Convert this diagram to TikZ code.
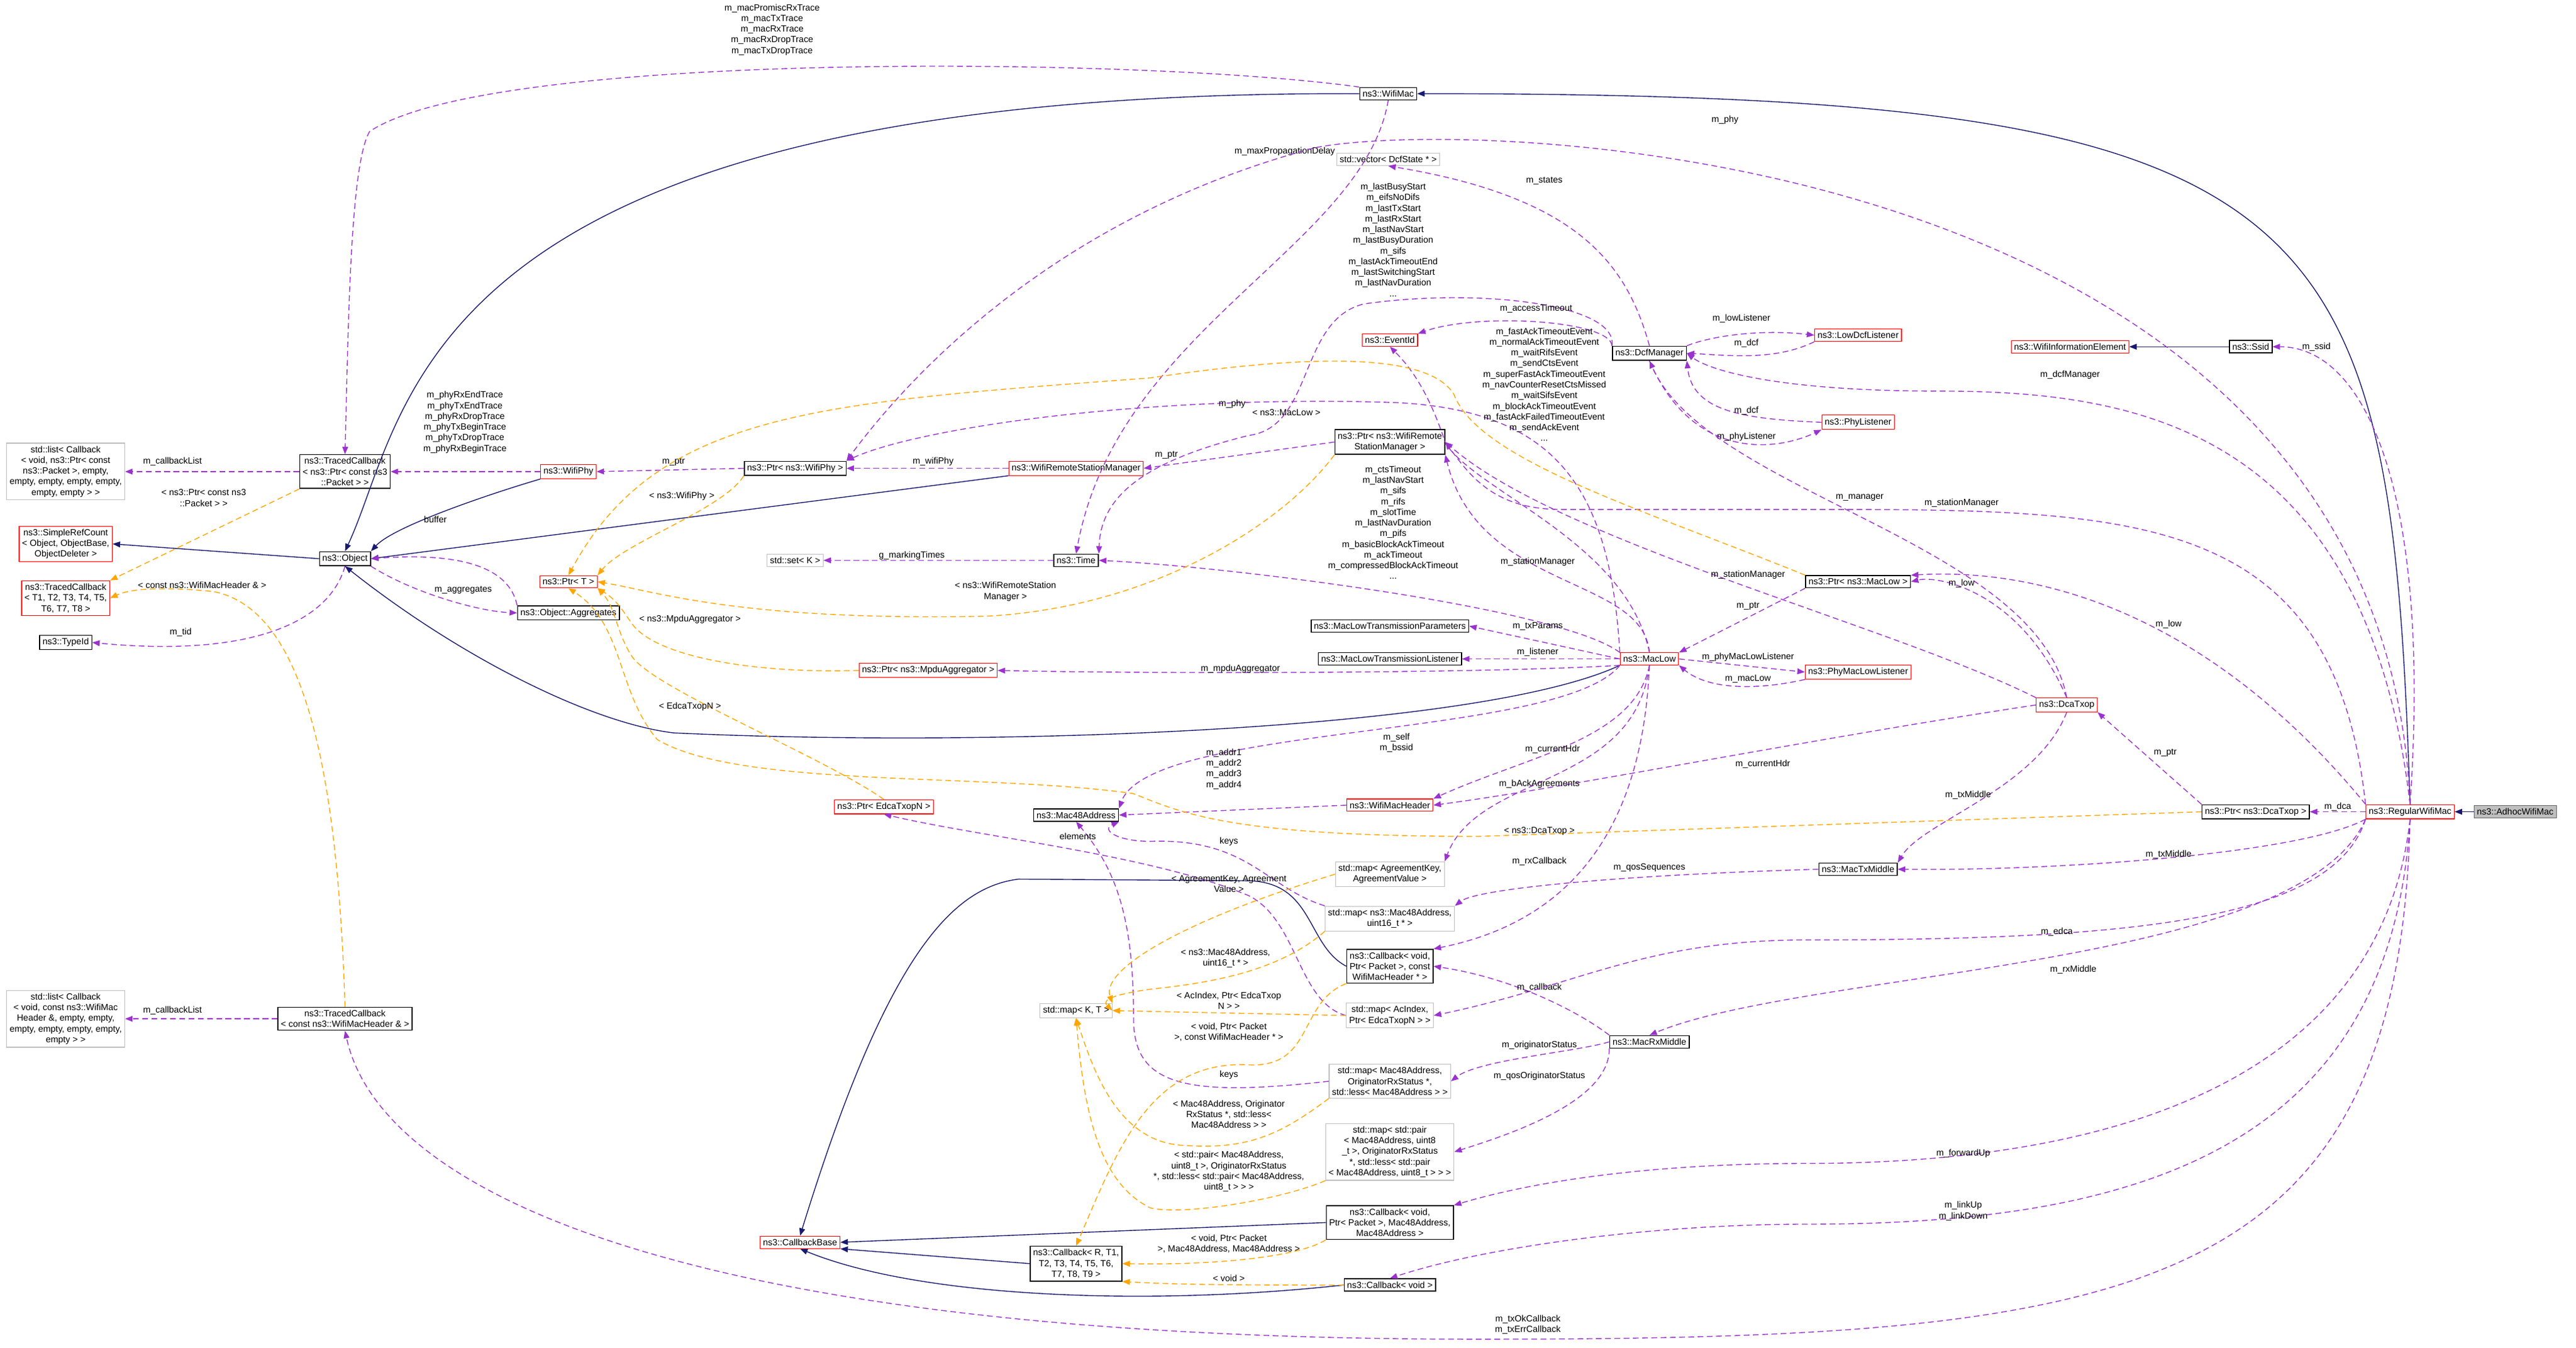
\documentclass[tikz,border=0pt]{standalone}
\usepackage{fontspec}
\setmainfont{Liberation Sans}
\usetikzlibrary{arrows.meta}
\definecolor{navyc}{HTML}{191970}
\definecolor{purp}{HTML}{9A32CD}
\definecolor{orng}{HTML}{FFA500}
\newcommand\fs{\fontsize{15.5}{18.5}\selectfont}
\tikzset{
 box/.style={draw=black, line width=1.6pt, fill=white, align=center, inner xsep=5pt, inner ysep=5pt, font=\fs},
 redbox/.style={box, draw=red, line width=1.2pt},
 greybox/.style={box, draw=black!25, line width=1.2pt},
 lbl/.style={font=\fs, align=center, inner sep=0pt},
 inh/.style={draw=navyc, line width=1.5pt, -{Triangle[length=13pt,width=10pt]}},
 use/.style={draw=purp, line width=1.5pt, dash pattern=on 10pt off 6pt, -{Triangle[length=13pt,width=10pt]}},
 tpl/.style={draw=orng, line width=1.5pt, dash pattern=on 10pt off 6pt, -{Triangle[length=13pt,width=10pt]}},
}
\begin{document}
\begin{tikzpicture}[x=1mm,y=-1mm]
\useasboundingbox (0,0) rectangle (1568,820);
% nodes
\node[box, fill=black!25, draw=black!60] (adhoc) at (1531,494) {ns3::AdhocWifiMac};
\node[redbox] (regular) at (1467,494) {ns3::RegularWifiMac};
\node[box] (wifimac) at (845,57) {ns3::WifiMac};
\node[greybox] (vector) at (845,97) {std::vector< DcfState * >};
\node[box] (dcf) at (1004,215) {ns3::DcfManager};
\node[redbox] (lowdcf) at (1131,204) {ns3::LowDcfListener};
\node[redbox] (phyl) at (1131,257) {ns3::PhyListener};
\node[redbox] (wifiinfo) at (1260,211) {ns3::WifiInformationElement};
\node[box] (ssid) at (1370,211) {ns3::Ssid};
\node[redbox] (eventid) at (846,207) {ns3::EventId};
\node[box] (ptrwrsm) at (846,269) {ns3::Ptr< ns3::WifiRemote\\StationManager >};
\node[box] (tcptr) at (210,287) {ns3::TracedCallback\\< ns3::Ptr< const ns3\\::Packet > >};
\node[greybox] (list1) at (40,287) {std::list< Callback\\< void, ns3::Ptr< const\\ ns3::Packet >, empty,\\ empty, empty, empty, empty,\\ empty, empty > >};
\node[redbox] (wifiphy) at (346,287) {ns3::WifiPhy};
\node[box] (ptrwifiphy) at (484,285) {ns3::Ptr< ns3::WifiPhy >};
\node[redbox] (wrsm) at (655,285) {ns3::WifiRemoteStationManager};
\node[redbox] (simpleref) at (40,331) {ns3::SimpleRefCount\\< Object, ObjectBase,\\ ObjectDeleter >};
\node[box] (object) at (210,340) {ns3::Object};
\node[redbox] (tc8) at (40,364) {ns3::TracedCallback\\< T1, T2, T3, T4, T5,\\ T6, T7, T8 >};
\node[redbox] (ptrt) at (346,354) {ns3::Ptr< T >};
\node[box] (aggr) at (346,373) {ns3::Object::Aggregates};
\node[box] (typeid) at (40,391) {ns3::TypeId};
\node[greybox] (set) at (484,341) {std::set< K >};
\node[box] (time) at (655,341) {ns3::Time};
\node[box] (params) at (846,381) {ns3::MacLowTransmissionParameters};
\node[box] (listener) at (846,401) {ns3::MacLowTransmissionListener};
\node[redbox] (maclow) at (1004,401) {ns3::MacLow};
\node[redbox] (phymaclow) at (1131,409) {ns3::PhyMacLowListener};
\node[box] (ptrmaclow) at (1131,354) {ns3::Ptr< ns3::MacLow >};
\node[redbox] (dcatxop) at (1258,429) {ns3::DcaTxop};
\node[redbox] (mpdu) at (565,408) {ns3::Ptr< ns3::MpduAggregator >};
\node[redbox] (ptredca) at (538,491) {ns3::Ptr< EdcaTxopN >};
\node[box] (mac48) at (655,496) {ns3::Mac48Address};
\node[redbox] (hdr) at (846,490) {ns3::WifiMacHeader};
\node[box] (ptrdca) at (1373,494) {ns3::Ptr< ns3::DcaTxop >};
\node[greybox] (mapagree) at (846,532) {std::map< AgreementKey,\\ AgreementValue >};
\node[greybox] (mapu16) at (846,559) {std::map< ns3::Mac48Address,\\ uint16\_t * >};
\node[box] (cb1) at (846,588) {ns3::Callback< void,\\ Ptr< Packet >, const\\ WifiMacHeader * >};
\node[greybox] (mapkt) at (655,615) {std::map< K, T >};
\node[greybox] (mapac) at (846,618) {std::map< AcIndex,\\ Ptr< EdcaTxopN > >};
\node[box] (mactx) at (1131,529) {ns3::MacTxMiddle};
\node[box] (macrx) at (1004,634) {ns3::MacRxMiddle};
\node[greybox] (maporig) at (846,658) {std::map< Mac48Address,\\ OriginatorRxStatus *,\\ std::less< Mac48Address > >};
\node[greybox] (mappair) at (846,701) {std::map< std::pair\\< Mac48Address, uint8\\\_t >, OriginatorRxStatus\\ *, std::less< std::pair\\< Mac48Address, uint8\_t > > >};
\node[box] (cb2) at (846,744) {ns3::Callback< void,\\ Ptr< Packet >, Mac48Address,\\ Mac48Address >};
\node[box] (cbr) at (655,769) {ns3::Callback< R, T1,\\ T2, T3, T4, T5, T6,\\ T7, T8, T9 >};
\node[box] (cbvoid) at (846,782) {ns3::Callback< void >};
\node[redbox] (cbbase) at (487,756) {ns3::CallbackBase};
\node[greybox] (list2) at (40,620) {std::list< Callback\\< void, const ns3::WifiMac\\Header \&, empty, empty,\\ empty, empty, empty, empty,\\ empty > >};
\node[box] (tchdr) at (210,620) {ns3::TracedCallback\\< const ns3::WifiMacHeader \& >};
% inheritance
\draw[inh] (adhoc) -- (regular);
\draw[inh] (regular.north) .. controls (1455,120) and (1420,57) .. (wifimac.east);
\draw[inh] (wifimac.west) .. controls (250,55) and (250,250) .. (object.north);
\draw[inh] (wifiphy.south west) .. controls (300,300) and (240,320) .. (object.north east);
\draw[inh] (wrsm.south west) -- (object.east);
\draw[inh] (maclow.south west) .. controls (900,445) and (600,455) .. (410,446) .. controls (360,440) and (280,400) .. (object.south);
\draw[inh] (object.west) -- (simpleref.east);
\draw[inh] (ssid) -- (wifiinfo);
\draw[inh] (cb1.west) .. controls (795,575) and (800,537) .. (760,536) -- (620,535) .. controls (580,540) and (540,580) .. (cbbase.north);
\draw[inh] (cb2.west) -- (cbbase.east);
\draw[inh] (cbr.west) -- (cbbase.south east);
\draw[inh] (cbvoid.west) .. controls (700,795) and (560,790) .. (cbbase.south);
% uses
\draw[use] (wifimac.north west) .. controls (700,35) and (300,30) .. (225,80) .. controls (213,100) and (212,200) .. (tcptr.north);
\node[lbl] (l1) at (470,18) {m\_macPromiscRxTrace\\m\_macTxTrace\\m\_macRxTrace\\m\_macRxDropTrace\\m\_macTxDropTrace};
\draw[use] (wifimac.south) .. controls (830,150) and (680,200) .. (time.north);
\node[lbl] (l2) at (782,92) {m\_maxPropagationDelay};
\draw[use] (regular.north) .. controls (1450,90) and (900,70) .. (800,90) .. controls (650,130) and (560,220) .. (ptrwifiphy.north east);
\node[lbl] (l3) at (1050,73) {m\_phy};
\draw[use] (maclow.north west) .. controls (980,300) and (950,250) .. (850,245) .. controls (700,240) and (560,260) .. (ptrwifiphy.north east);
\node[lbl] (l4) at (750,246) {m\_phy};
\draw[use] (wifiphy.west) -- (tcptr.east);
\node[lbl] (l5) at (283,257) {m\_phyRxEndTrace\\m\_phyTxEndTrace\\m\_phyRxDropTrace\\m\_phyTxBeginTrace\\m\_phyTxDropTrace\\m\_phyRxBeginTrace};
\draw[use] (tcptr.west) -- (list1.east);
\node[lbl] (l6) at (105,281) {m\_callbackList};
\draw[use] (ptrwifiphy.west) -- (wifiphy.east);
\node[lbl] (l7) at (410,281) {m\_ptr};
\draw[use] (wrsm.west) -- (ptrwifiphy.east);
\node[lbl] (l8) at (568,281) {m\_wifiPhy};
\draw[use] (ptrwrsm.west) -- (wrsm.east);
\node[lbl] (l9) at (710,277) {m\_ptr};
\draw[use] (object.south east) .. controls (250,360) and (290,372) .. (aggr.west);
\node[lbl] (l10) at (282,359) {m\_aggregates};
\draw[use] (aggr.north west) .. controls (310,345) and (280,336) .. (object.east);
\node[lbl] (l11) at (265,316) {buffer};
\draw[use] (object.south) .. controls (200,380) and (150,400) .. (typeid.east);
\node[lbl] (l12) at (110,385) {m\_tid};
\draw[use] (time.west) -- (set.east);
\node[lbl] (l13) at (555,338) {g\_markingTimes};
\draw[use] (dcf.north) .. controls (990,160) and (960,120) .. (vector.south);
\node[lbl] (l14) at (940,110) {m\_states};
\draw[use] (dcf.north west) .. controls (985,185) and (900,175) .. (830,185) .. controls (790,195) and (800,260) .. (760,265) .. controls (700,280) and (670,300) .. (time.north east);
\node[lbl] (l15) at (848,146) {m\_lastBusyStart\\m\_eifsNoDifs\\m\_lastTxStart\\m\_lastRxStart\\m\_lastNavStart\\m\_lastBusyDuration\\m\_sifs\\m\_lastAckTimeoutEnd\\m\_lastSwitchingStart\\m\_lastNavDuration\\...};
\draw[use] (dcf.north west) .. controls (980,195) and (900,190) .. (eventid.north east);
\node[lbl] (l16) at (935,188) {m\_accessTimeout};
\draw[use] (dcf.north east) .. controls (1040,205) and (1070,200) .. (lowdcf.west);
\node[lbl] (l17) at (1060,194) {m\_lowListener};
\draw[use] (lowdcf.south west) .. controls (1080,220) and (1050,216) .. (dcf.east);
\node[lbl] (l18) at (1063,209) {m\_dcf};
\draw[use] (phyl.west) .. controls (1060,255) and (1030,250) .. (dcf.south east);
\node[lbl] (l19) at (1063,250) {m\_dcf};
\draw[use] (dcf.south) .. controls (1030,280) and (1080,275) .. (phyl.south west);
\node[lbl] (l20) at (1063,266) {m\_phyListener};
\draw[use] (maclow.north) .. controls (990,330) and (900,300) .. (880,270) .. controls (870,240) and (860,225) .. (eventid.south);
\node[lbl] (l21) at (940,234) {m\_fastAckTimeoutEvent\\m\_normalAckTimeoutEvent\\m\_waitRifsEvent\\m\_sendCtsEvent\\m\_superFastAckTimeoutEvent\\m\_navCounterResetCtsMissed\\m\_waitSifsEvent\\m\_blockAckTimeoutEvent\\m\_fastAckFailedTimeoutEvent\\m\_sendAckEvent\\...};
\draw[use] (maclow.north west) .. controls (950,370) and (750,345) .. (time.east);
\node[lbl] (l22) at (848,318) {m\_ctsTimeout\\m\_lastNavStart\\m\_sifs\\m\_rifs\\m\_slotTime\\m\_lastNavDuration\\m\_pifs\\m\_basicBlockAckTimeout\\m\_ackTimeout\\m\_compressedBlockAckTimeout\\...};
\draw[use] (maclow.north) .. controls (1000,350) and (900,360) .. (ptrwrsm.south east);
\node[lbl] (l23) at (936,342) {m\_stationManager};
\draw[use] (dcatxop.north west) .. controls (1150,380) and (950,330) .. (ptrwrsm.east);
\node[lbl] (l24) at (1064,350) {m\_stationManager};
\draw[use] (regular.north west) .. controls (1420,310) and (1300,310) .. (1100,310) -- (950,310) .. controls (910,310) and (895,290) .. (ptrwrsm.east);
\node[lbl] (l25) at (1194,306) {m\_stationManager};
\draw[use] (dcatxop.north) .. controls (1240,330) and (1040,300) .. (dcf.south);
\node[lbl] (l26) at (1132,303) {m\_manager};
\draw[use] (regular.north) .. controls (1440,260) and (1300,238) .. (1180,238) .. controls (1080,238) and (1040,225) .. (dcf.east);
\node[lbl] (l27) at (1260,228) {m\_dcfManager};
\draw[use] (regular.north) .. controls (1480,300) and (1440,211) .. (ssid.east);
\node[lbl] (l28) at (1410,211) {m\_ssid};
\draw[use] (maclow.west) -- (params.east);
\node[lbl] (l29) at (936,381) {m\_txParams};
\draw[use] (maclow.west) -- (listener.east);
\node[lbl] (l30) at (936,397) {m\_listener};
\draw[use] (maclow.east) -- (phymaclow.west);
\node[lbl] (l31) at (1064,400) {m\_phyMacLowListener};
\draw[use] (phymaclow.south west) .. controls (1070,420) and (1040,420) .. (maclow.south east);
\node[lbl] (l32) at (1064,413) {m\_macLow};
\draw[use] (maclow.south west) .. controls (900,410) and (700,410) .. (mpdu.east);
\node[lbl] (l33) at (755,407) {m\_mpduAggregator};
\draw[use] (ptrmaclow.south west) -- (maclow.north east);
\node[lbl] (l34) at (1064,369) {m\_ptr};
\draw[use] (dcatxop.north) .. controls (1230,360) and (1180,350) .. (ptrmaclow.east);
\node[lbl] (l35) at (1194,355) {m\_low};
\draw[use] (regular.north west) .. controls (1350,380) and (1250,345) .. (ptrmaclow.north east);
\node[lbl] (l36) at (1320,380) {m\_low};
\draw[use] (ptrdca.north west) -- (dcatxop.south east);
\node[lbl] (l37) at (1318,458) {m\_ptr};
\draw[use] (regular.west) -- (ptrdca.east);
\node[lbl] (l38) at (1423,491) {m\_dca};
\draw[use] (dcatxop.south) .. controls (1240,480) and (1170,500) .. (mactx.north east);
\node[lbl] (l39) at (1198,484) {m\_txMiddle};
\draw[use] (regular.south west) .. controls (1400,520) and (1250,530) .. (mactx.east);
\node[lbl] (l40) at (1320,520) {m\_txMiddle};
\draw[use] (dcatxop.west) .. controls (1100,450) and (950,480) .. (hdr.east);
\node[lbl] (l41) at (1073,465) {m\_currentHdr};
\draw[use] (maclow.south) .. controls (995,450) and (930,460) .. (hdr.north east);
\node[lbl] (l42) at (945,456) {m\_currentHdr};
\draw[use] (maclow.south west) .. controls (950,450) and (700,440) .. (mac48.north east);
\node[lbl] (l43) at (850,452) {m\_self\\m\_bssid};
\draw[use] (hdr.west) -- (mac48.east);
\node[lbl] (l44) at (745,468) {m\_addr1\\m\_addr2\\m\_addr3\\m\_addr4};
\draw[use] (mapu16.north west) .. controls (770,540) and (760,510) .. (700,512) .. controls (680,512) and (670,505) .. (mac48.south east);
\node[lbl] (l45) at (748,512) {keys};
\draw[use] (maporig.west) .. controls (720,668) and (690,660) .. (690,620) .. controls (690,560) and (680,530) .. (mac48.south);
\node[lbl] (l46) at (748,654) {keys};
\draw[use] (mapac.west) .. controls (790,610) and (790,560) .. (760,545) .. controls (700,520) and (600,510) .. (ptredca.south);
\node[lbl] (l47) at (656,509) {elements};
\draw[use] (maclow.south) .. controls (995,480) and (900,470) .. (mapagree.north east);
\node[lbl] (l48) at (937,477) {m\_bAckAgreements};
\draw[use] (maclow.south) .. controls (1000,500) and (960,560) .. (cb1.north east);
\node[lbl] (l49) at (937,524) {m\_rxCallback};
\draw[use] (mactx.west) .. controls (1000,532) and (900,540) .. (mapu16.north east);
\node[lbl] (l50) at (1004,528) {m\_qosSequences};
\draw[use] (macrx.north west) .. controls (960,615) and (920,595) .. (cb1.east);
\node[lbl] (l51) at (937,601) {m\_callback};
\draw[use] (macrx.west) .. controls (960,640) and (900,645) .. (maporig.east);
\node[lbl] (l52) at (937,636) {m\_originatorStatus};
\draw[use] (macrx.south west) .. controls (980,670) and (920,690) .. (mappair.east);
\node[lbl] (l53) at (937,655) {m\_qosOriginatorStatus};
\draw[use] (regular.south west) .. controls (1420,560) and (1300,572) .. (1100,572) .. controls (1000,572) and (960,600) .. (mapac.east);
\node[lbl] (l54) at (1252,567) {m\_edca};
\draw[use] (regular.south west) .. controls (1400,590) and (1100,590) .. (macrx.north);
\node[lbl] (l55) at (1262,590) {m\_rxMiddle};
\draw[use] (regular.south) .. controls (1450,650) and (1300,708) .. (1100,708) .. controls (1000,708) and (930,720) .. (cb2.north east);
\node[lbl] (l56) at (1195,702) {m\_forwardUp};
\draw[use] (regular.south) .. controls (1455,700) and (1300,745) .. (1100,745) .. controls (1000,745) and (900,760) .. (cbvoid.north);
\node[lbl] (l57) at (1195,737) {m\_linkUp\\m\_linkDown};
\draw[use] (regular.south) .. controls (1460,790) and (1300,815) .. (900,815) .. controls (400,815) and (230,720) .. (tchdr.south);
\node[lbl] (l58) at (930,806) {m\_txOkCallback\\m\_txErrCallback};
\draw[use] (tchdr.west) -- (list2.east);
\node[lbl] (l59) at (105,615) {m\_callbackList};
% templates
\draw[tpl] (tcptr.south west) -- (tc8.north east);
\node[lbl] (t1) at (124,303) {< ns3::Ptr< const ns3\\::Packet > >};
\draw[tpl] (tchdr.north) .. controls (205,450) and (180,370) .. (130,360) .. controls (100,357) and (80,358) .. (tc8.east);
\node[lbl] (t2) at (123,356) {< const ns3::WifiMacHeader \& >};
\draw[tpl] (ptrwifiphy.south west) .. controls (440,310) and (380,330) .. (ptrt.north east);
\node[lbl] (t3) at (415,302) {< ns3::WifiPhy >};
\draw[tpl] (ptrmaclow.north west) .. controls (1000,310) and (900,280) .. (885,240) .. controls (870,215) and (800,215) .. (700,230) .. controls (500,245) and (400,250) .. (ptrt.north);
\node[lbl] (t4) at (783,251) {< ns3::MacLow >};
\draw[tpl] (ptrwrsm.south west) .. controls (780,320) and (700,370) .. (600,375) .. controls (450,378) and (400,360) .. (ptrt.east);
\node[lbl] (t5) at (612,360) {< ns3::WifiRemoteStation\\Manager >};
\draw[tpl] (mpdu.west) .. controls (460,410) and (400,400) .. (385,380) .. controls (378,370) and (375,365) .. (ptrt.south east);
\node[lbl] (t6) at (420,377) {< ns3::MpduAggregator >};
\draw[tpl] (ptredca.north) .. controls (500,460) and (400,420) .. (385,400) .. controls (375,385) and (375,370) .. (ptrt.south east);
\node[lbl] (t7) at (420,430) {< EdcaTxopN >};
\draw[tpl] (ptrdca.west) -- (900,509) .. controls (750,509) and (720,495) .. (690,483) .. controls (600,470) and (450,480) .. (400,450) .. controls (375,420) and (380,380) .. (ptrt.south);
\node[lbl] (t8) at (937,506) {< ns3::DcaTxop >};
\draw[tpl] (mapagree.west) .. controls (720,560) and (670,590) .. (mapkt.north east);
\node[lbl] (t9) at (748,538) {< AgreementKey, Agreement\\Value >};
\draw[tpl] (mapu16.south west) .. controls (780,590) and (740,598) .. (700,602) .. controls (680,605) and (670,608) .. (mapkt.east);
\node[lbl] (t10) at (746,583) {< ns3::Mac48Address,\\uint16\_t * >};
\draw[tpl] (mapac.west) -- (mapkt.east);
\node[lbl] (t11) at (748,609) {< AcIndex, Ptr< EdcaTxop\\N > >};
\draw[tpl] (cb1.south west) .. controls (790,610) and (800,650) .. (760,648) .. controls (700,645) and (680,700) .. (cbr.north);
\node[lbl] (t12) at (748,628) {< void, Ptr< Packet\\>, const WifiMacHeader * >};
\draw[tpl] (maporig.south west) .. controls (780,690) and (760,700) .. (720,697) .. controls (680,695) and (665,650) .. (mapkt.south);
\node[lbl] (t13) at (748,678) {< Mac48Address, Originator\\RxStatus *, std::less<\\Mac48Address > >};
\draw[tpl] (mappair.south west) .. controls (780,730) and (720,740) .. (700,735) .. controls (670,720) and (660,680) .. (mapkt.south);
\node[lbl] (t14) at (748,713) {< std::pair< Mac48Address,\\uint8\_t >, OriginatorRxStatus\\*, std::less< std::pair< Mac48Address,\\uint8\_t > > >};
\draw[tpl] (cb2.south west) .. controls (790,765) and (740,770) .. (cbr.east);
\node[lbl] (t15) at (748,757) {< void, Ptr< Packet\\>, Mac48Address, Mac48Address >};
\draw[tpl] (cbvoid.west) .. controls (760,782) and (720,782) .. (cbr.south east);
\node[lbl] (t16) at (748,778) {< void >};
\end{tikzpicture}
\end{document}
